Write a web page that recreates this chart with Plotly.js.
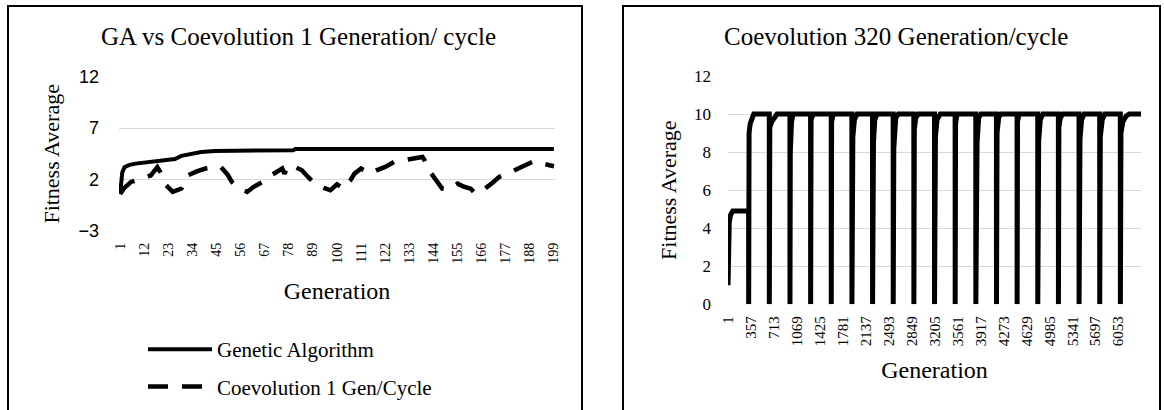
<!DOCTYPE html>
<html>
<head>
<meta charset="utf-8">
<script src="https://cdn.plot.ly/plotly-3.0.1.min.js"></script>
<style>
html,body{margin:0;padding:0;background:#ffffff;}
#chart{width:1164px;height:410px;}
</style>
</head>
<body>
<div id="chart"></div>
<script>
// ---------- Left chart: GA vs Coevolution 1 Generation/ cycle ----------
const gaGenerations = [1, 2, 3, 5, 8, 11, 16, 22, 26, 29, 33, 38, 44, 55, 67, 80, 81, 120, 199];
const gaFitness     = [0.6, 2.7, 3.2, 3.4, 3.55, 3.62, 3.7, 3.82, 4.0, 4.3, 4.5, 4.68, 4.78, 4.82, 4.85, 4.85, 4.97, 4.97, 4.97];

const coGenerations = [1, 3, 6, 9, 13, 15, 18, 20, 22, 25, 29, 31, 32, 36, 40, 44, 47, 50, 52, 55, 59, 62, 66, 69, 72, 75, 76, 78, 81, 84, 87, 90, 94, 97, 100, 103, 106, 108, 111, 115, 118, 122, 126, 130, 134, 139, 140, 142, 145, 148, 151, 155, 158, 161, 163, 167, 171, 174, 178, 181, 185, 188, 190, 195, 199];
const coFitness     = [0.6, 1.2, 1.77, 2.0, 2.25, 2.4, 3.2, 2.5, 1.45, 0.8, 1.13, 2.0, 2.42, 2.8, 3.07, 3.2, 3.23, 2.5, 1.77, 1.2, 0.8, 1.3, 1.77, 2.3, 2.74, 3.07, 2.58, 3.39, 3.2, 2.9, 2.2, 1.6, 1.2, 0.96, 1.54, 1.12, 1.9, 2.58, 3.07, 2.58, 2.9, 3.23, 3.71, 3.88, 4.0, 4.2, 3.88, 2.9, 2.0, 1.12, 1.03, 1.6, 1.3, 1.12, 0.64, 1.03, 1.7, 2.25, 2.6, 2.9, 3.3, 3.56, 3.81, 3.49, 3.3];

const leftXTicks  = [1, 12, 23, 34, 45, 56, 67, 78, 89, 100, 111, 122, 133, 144, 155, 166, 177, 188, 199];
const leftYTicks  = [-3, 2, 7, 12];

// ---------- Right chart: Coevolution 320 Generation/cycle ----------
const co320Generations = [
  1, 10, 20, 40, 75, 320,
  321, 327, 345, 400, 640,
  641, 648, 680, 760, 960,
  961, 966, 985, 1010, 1280,
  1281, 1288, 1310, 1330, 1600,
  1601, 1606, 1625, 1650, 1920,
  1921, 1935, 1960, 2000, 2240,
  2241, 2255, 2275, 2310, 2560,
  2561, 2570, 2600, 2640, 2880,
  2881, 2888, 2910, 2950, 3200,
  3201, 3215, 3240, 3290, 3520,
  3521, 3527, 3545, 3570, 3840,
  3841, 3860, 3885, 3920, 4160,
  4161, 4170, 4195, 4230, 4480,
  4481, 4487, 4505, 4530, 4800,
  4801, 4815, 4840, 4880, 5120,
  5121, 5128, 5150, 5190, 5440,
  5441, 5455, 5480, 5520, 5760,
  5761, 5770, 5800, 5840, 6080,
  6081, 6090, 6120, 6170, 6220, 6400
];
const co320Fitness = [
  1.0, 3.2, 4.3, 4.7, 4.9, 4.9,
  0, 9.0, 9.5, 10, 10,
  0, 9.3, 9.6, 10, 10,
  0, 8.0, 9.6, 10, 10,
  0, 9.7, 9.9, 10, 10,
  0, 9.6, 9.9, 10, 10,
  0, 8.8, 9.7, 10, 10,
  0, 8.5, 9.7, 10, 10,
  0, 8.2, 9.8, 10, 10,
  0, 9.2, 9.8, 10, 10,
  0, 8.8, 9.7, 10, 10,
  0, 9.5, 9.9, 10, 10,
  0, 8.5, 9.8, 10, 10,
  0, 9.0, 9.8, 10, 10,
  0, 9.6, 9.9, 10, 10,
  0, 8.6, 9.7, 10, 10,
  0, 9.3, 9.8, 10, 10,
  0, 8.7, 9.7, 10, 10,
  0, 8.8, 9.7, 10, 10,
  0, 9.0, 9.6, 9.9, 10, 10
];

const rightXTicks = [1, 357, 713, 1069, 1425, 1781, 2137, 2493, 2849, 3205, 3561, 3917, 4273, 4629, 4985, 5341, 5697, 6053];
const rightYTicks = [0, 2, 4, 6, 8, 10, 12];

const W = 1164, H = 410;
const px = v => v / W;
const py = v => 1 - v / H;

const SERIF = 'Liberation Serif, Times New Roman, serif';
const SANS = 'Liberation Sans, Arial, sans-serif';
const GRID = '#d9d9d9';

const traces = [
  {
    x: gaGenerations, y: gaFitness, xaxis: 'x', yaxis: 'y',
    type: 'scatter', mode: 'lines', name: 'Genetic Algorithm',
    line: {color: '#000000', width: 4}, legendgroup: 'a', hoverinfo: 'skip'
  },
  {
    x: coGenerations, y: coFitness, xaxis: 'x', yaxis: 'y',
    type: 'scatter', mode: 'lines', name: 'Coevolution 1 Gen/Cycle',
    line: {color: '#000000', width: 4.5, dash: '20px,14px'}, legendgroup: 'b', hoverinfo: 'skip'
  },
  {
    x: co320Generations, y: co320Fitness, xaxis: 'x2', yaxis: 'y2',
    type: 'scatter', mode: 'lines', name: 'Coevolution 320 Gen/Cycle',
    line: {color: '#000000', width: 5}, showlegend: false, hoverinfo: 'skip'
  }
];

const layout = {
  width: W, height: H,
  margin: {l: 0, r: 0, t: 0, b: 0},
  paper_bgcolor: '#ffffff', plot_bgcolor: 'rgba(0,0,0,0)',
  font: {family: SERIF, color: '#000000'},
  showlegend: true,
  legend: {
    x: px(143), y: py(329), xanchor: 'left', yanchor: 'top',
    font: {family: SERIF, size: 21, color: '#000000'},
    traceorder: 'grouped', tracegroupgap: 7, itemwidth: 64,
    bgcolor: 'rgba(0,0,0,0)', borderwidth: 0
  },
  xaxis: {
    domain: [px(119), px(555)], anchor: 'y',
    range: [0.5, 199.5], tickmode: 'array', tickvals: leftXTicks,
    tickangle: -90, tickfont: {family: SERIF, size: 14, color: '#000'},
    ticklabelstandoff: 8, showgrid: false, zeroline: false, showline: false, ticks: '',
    title: {text: 'Generation', font: {family: SERIF, size: 24, color: '#000'}, standoff: 19}
  },
  yaxis: {
    domain: [py(231), py(76.7)], anchor: 'x',
    range: [-3, 12], tickmode: 'array', tickvals: leftYTicks,
    tickfont: {family: SANS, size: 18, color: '#000'},
    ticklabelstandoff: 19, showgrid: true, gridcolor: GRID, gridwidth: 1,
    zeroline: false, showline: false, ticks: '',
    title: {text: 'Fitness Average', font: {family: SERIF, size: 22, color: '#000'}, standoff: 12}
  },
  xaxis2: {
    domain: [px(728), px(1141)], anchor: 'y2',
    range: [0.5, 6400.5], tickmode: 'array', tickvals: rightXTicks,
    tickangle: -90, tickfont: {family: SERIF, size: 15, color: '#000'},
    ticklabelstandoff: 8, showgrid: false, zeroline: false, showline: false, ticks: '',
    title: {text: 'Generation', font: {family: SERIF, size: 24, color: '#000'}, standoff: 15}
  },
  yaxis2: {
    domain: [py(304.3), py(76)], anchor: 'x2',
    range: [0, 12], tickmode: 'array', tickvals: rightYTicks,
    tickfont: {family: SERIF, size: 17, color: '#000'},
    ticklabelstandoff: 16, showgrid: true, gridcolor: GRID, gridwidth: 1,
    zeroline: false, showline: false, ticks: '',
    title: {text: 'Fitness Average', font: {family: SERIF, size: 22, color: '#000'}, standoff: 11}
  },
  annotations: [
    {text: 'GA vs Coevolution 1 Generation/ cycle', xref: 'paper', yref: 'paper',
     x: px(298), y: py(37), xanchor: 'center', yanchor: 'middle', showarrow: false,
     font: {family: SERIF, size: 25, color: '#000'}},
    {text: 'Coevolution 320 Generation/cycle', xref: 'paper', yref: 'paper',
     x: px(896), y: py(37), xanchor: 'center', yanchor: 'middle', showarrow: false,
     font: {family: SERIF, size: 25, color: '#000'}}
  ],
  shapes: [
    {type: 'rect', xref: 'paper', yref: 'paper', x0: px(8), x1: px(582), y0: -0.05, y1: py(6),
     line: {color: '#000', width: 2}, fillcolor: 'rgba(0,0,0,0)', layer: 'below'},
    {type: 'rect', xref: 'paper', yref: 'paper', x0: px(623), x1: px(1160), y0: -0.05, y1: py(6),
     line: {color: '#000', width: 2}, fillcolor: 'rgba(0,0,0,0)', layer: 'below'}
  ]
};

Plotly.newPlot('chart', traces, layout, {staticPlot: true, displayModeBar: false});
</script>
</body>
</html>
